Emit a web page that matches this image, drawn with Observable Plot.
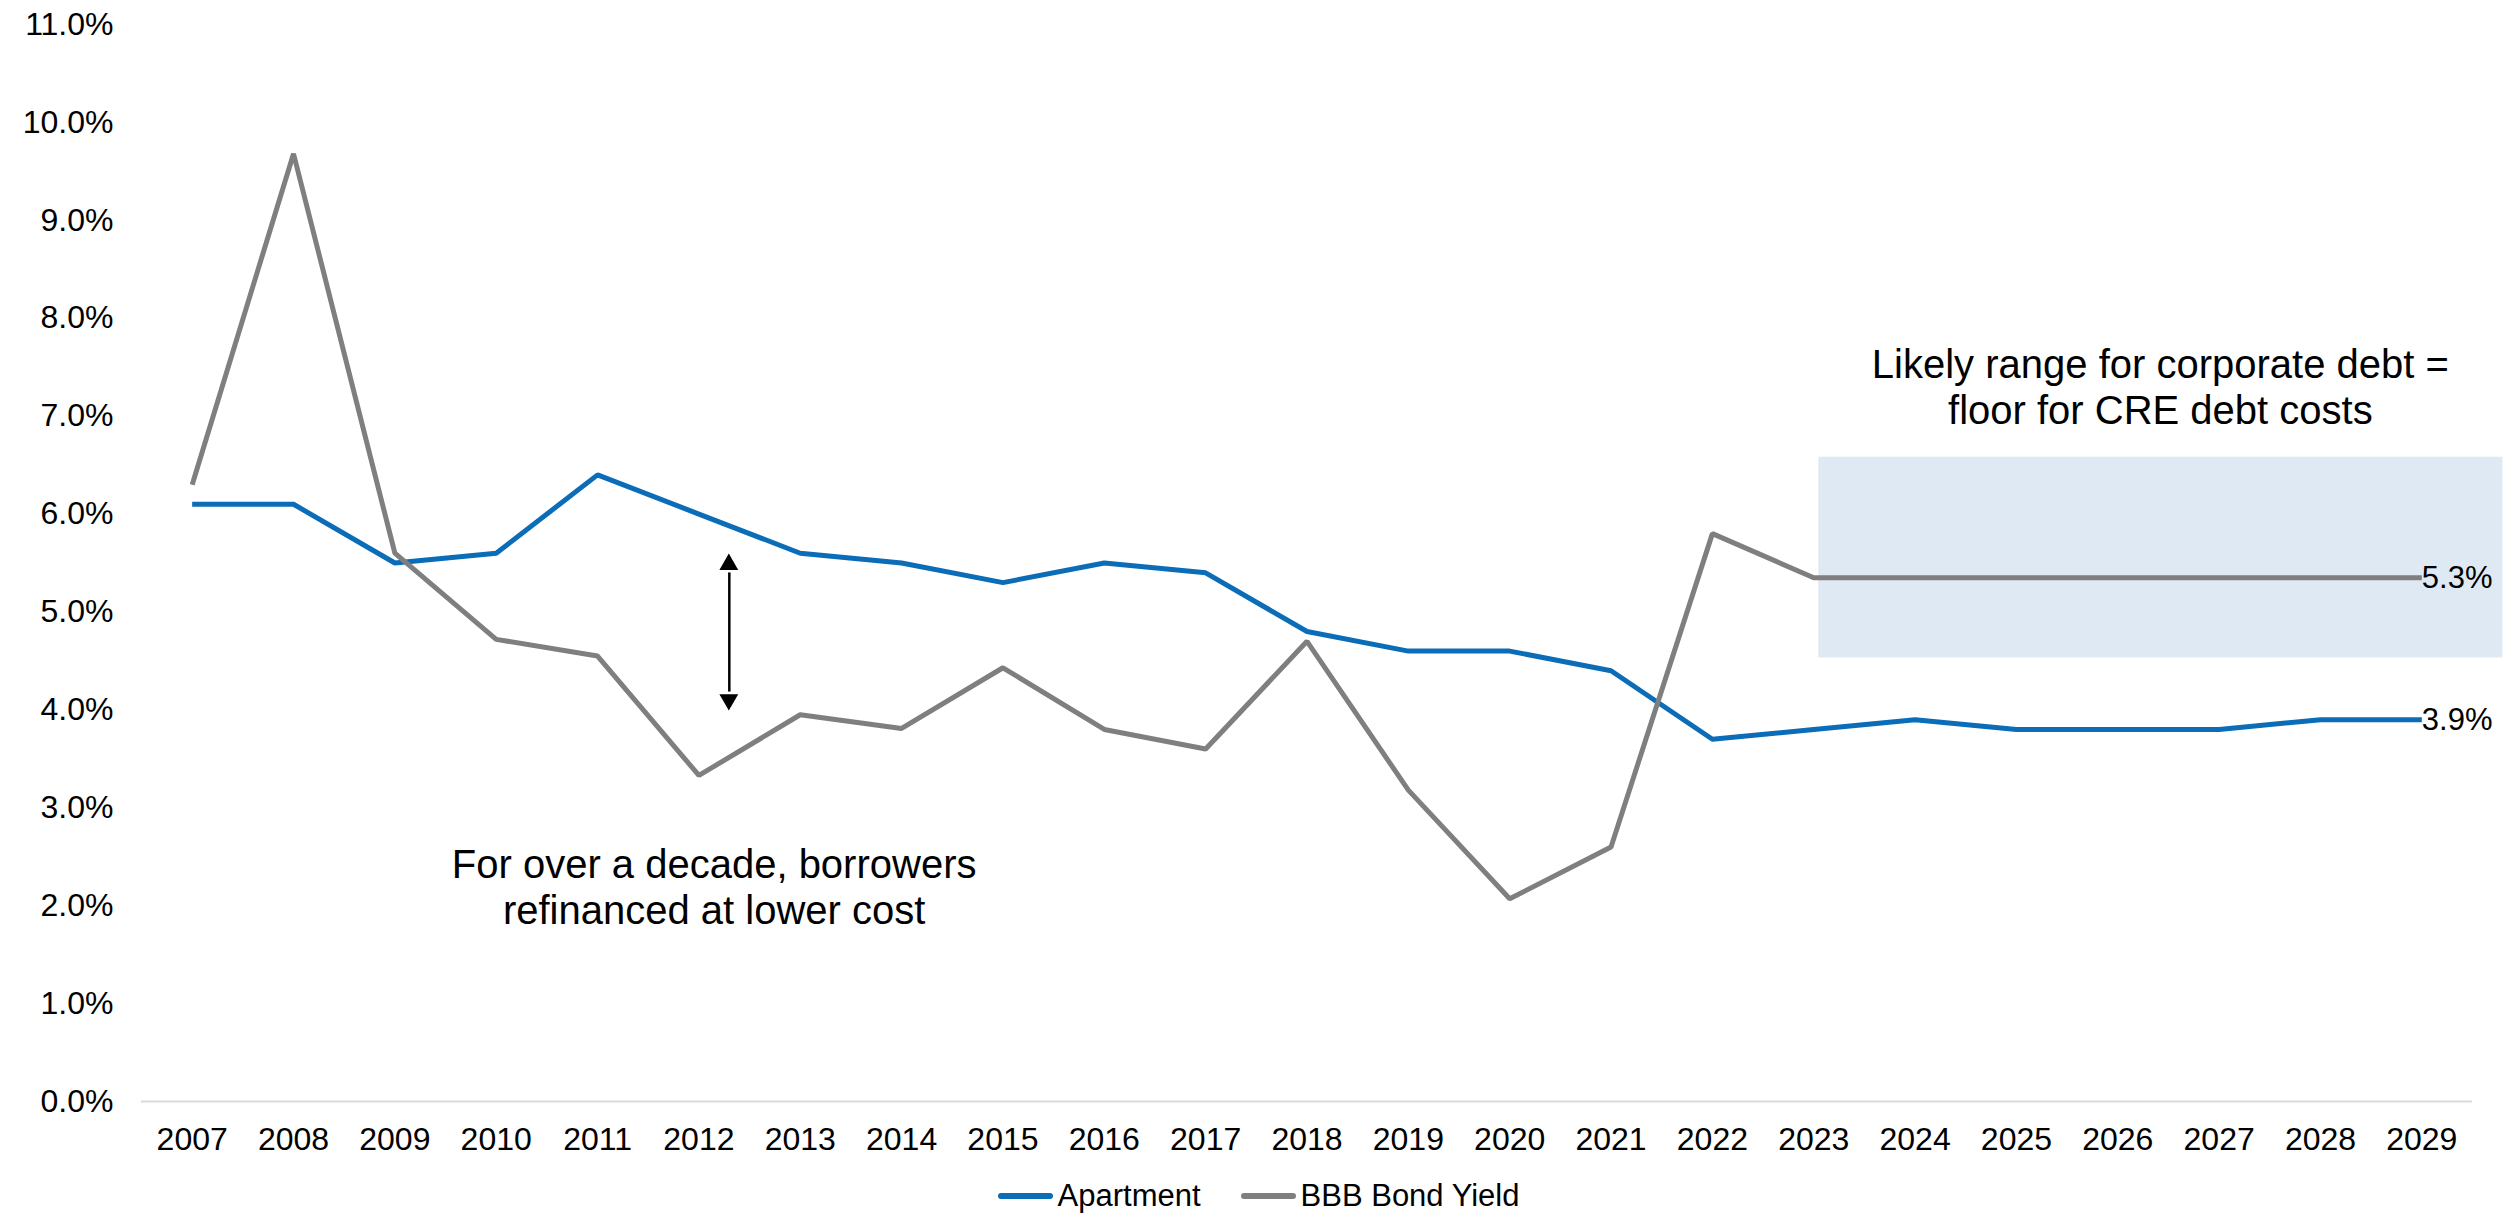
<!DOCTYPE html>
<html>
<head>
<meta charset="utf-8">
<script src="https://cdn.jsdelivr.net/npm/d3@7"></script>
<script src="https://cdn.jsdelivr.net/npm/@observablehq/plot@0.6"></script>
<style>
  html, body { margin: 0; padding: 0; background: #fff; }
  body { width: 2517px; height: 1215px; overflow: hidden; font-family: "Liberation Sans", Arial, sans-serif; }
  #legend { display: flex; justify-content: center; align-items: center; height: 60px; margin-top: 6px; font-size: 31px; color: #000; }
  .item { display: flex; align-items: center; margin: 0 20px; }
  .sw { width: 55px; height: 6px; border-radius: 3px; margin-right: 5px; }
</style>
</head>
<body>
<div id="chart"></div>
<div id="legend"></div>
<script>
const years = [2007,2008,2009,2010,2011,2012,2013,2014,2015,2016,2017,2018,2019,2020,2021,2022,2023,2024,2025,2026,2027,2028,2029];
const apartment = [6.1,6.1,5.5,5.6,6.4,6.0,5.6,5.5,5.3,5.5,5.4,4.8,4.6,4.6,4.4,3.7,3.8,3.9,3.8,3.8,3.8,3.9,3.9];
const bbbYield = [6.3,9.68,5.6,4.72,4.55,3.33,3.95,3.81,4.43,3.80,3.60,4.70,3.18,2.07,2.60,5.80,5.35,5.35,5.35,5.35,5.35,5.35,5.35];
const seriesNames = ["Apartment", "BBB Bond Yield"];
const seriesColors = ["#0b6cb7", "#7f7f7f"];
const yTicks = [0,1,2,3,4,5,6,7,8,9,10,11];
const rangeBand = [{x1: 2023.05, x2: 2029.8, y1: 4.53, y2: 6.58}];
const gapArrow = [{x: 2012.3, yTop: 5.48, yBottom: 4.10}];
const notes = [
  {x: 2012.15, y: 2.2, text: "For over a decade, borrowers\nrefinanced at lower cost"},
  {x: 2026.42, y: 7.3, text: "Likely range for corporate debt =\nfloor for CRE debt costs"}
];

const aptData = years.map((x, i) => ({x, y: apartment[i]}));
const bbbData = years.map((x, i) => ({x, y: bbbYield[i]}));
const endLabels = [
  {x: years[years.length-1], y: bbbYield[bbbYield.length-1], text: bbbYield[bbbYield.length-1].toFixed(1) + "%"},
  {x: years[years.length-1], y: apartment[apartment.length-1], text: apartment[apartment.length-1].toFixed(1) + "%"}
];
const arrowHeads = [
  {x: gapArrow[0].x, y: gapArrow[0].yTop, rot: 0, dy: 7},
  {x: gapArrow[0].x, y: gapArrow[0].yBottom, rot: 180, dy: -7}
];

const chart = Plot.plot({
  width: 2517,
  height: 1160,
  marginLeft: 141,
  marginRight: 45,
  marginTop: 24,
  marginBottom: 59,
  style: {fontFamily: "'Liberation Sans', Arial, sans-serif", fontSize: "32px", color: "#000", background: "#fff", overflow: "visible"},
  x: {domain: [2006.5, 2029.5], ticks: years, tickFormat: d => String(d), tickSize: 0, tickPadding: 26, label: null},
  y: {domain: [0, 11], ticks: yTicks, tickFormat: d => d.toFixed(1) + "%", tickSize: 0, tickPadding: 28, label: null},
  marks: [
    Plot.rect(rangeBand, {x1: "x1", x2: "x2", y1: "y1", y2: "y2", fill: "#dfe9f3", clip: false}),
    Plot.ruleY([0], {stroke: "#d9d9d9", strokeWidth: 2}),
    Plot.line(aptData, {x: "x", y: "y", stroke: seriesColors[0], strokeWidth: 5, strokeLinejoin: "miter", strokeLinecap: "butt"}),
    Plot.line(bbbData, {x: "x", y: "y", stroke: seriesColors[1], strokeWidth: 5, strokeLinejoin: "miter", strokeLinecap: "butt"}),
    Plot.text(endLabels, {x: "x", y: "y", text: "text", textAnchor: "start", dx: 0, fontSize: 31, fill: "#000"}),
    Plot.ruleX(gapArrow, {x: "x", y1: "yTop", y2: "yBottom", stroke: "#000", strokeWidth: 2.5, insetTop: 8, insetBottom: 8}),
    Plot.dot(arrowHeads, {x: "x", y: "y", symbol: "triangle", r: 7, rotate: "rot", dy: "dy", fill: "#000", stroke: null}),
    Plot.text(notes, {x: "x", y: "y", text: "text", fontSize: 40, lineHeight: 1.15, lineAnchor: "middle", fill: "#000"})
  ]
});
document.getElementById("chart").appendChild(chart);

const legend = document.getElementById("legend");
seriesNames.forEach((name, i) => {
  const item = document.createElement("div");
  item.className = "item";
  const sw = document.createElement("div");
  sw.className = "sw";
  sw.style.background = seriesColors[i];
  const t = document.createElement("span");
  t.textContent = name;
  item.appendChild(sw);
  item.appendChild(t);
  legend.appendChild(item);
});
</script>
</body>
</html>
